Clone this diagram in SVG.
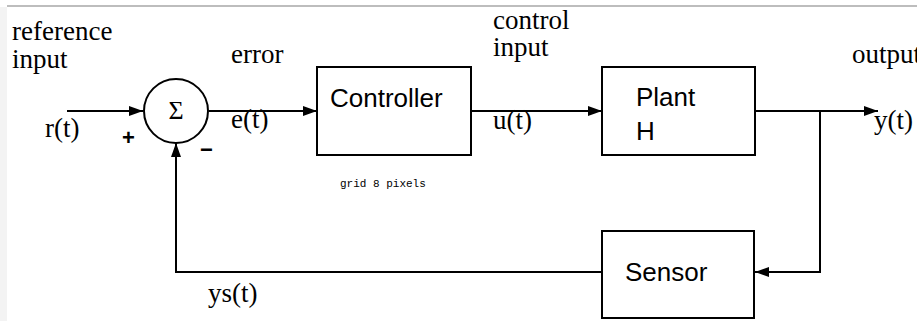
<svg xmlns="http://www.w3.org/2000/svg" width="917" height="321" viewBox="0 0 917 321">
<defs>
<style>
.ln{fill:none;stroke:#000;stroke-width:2}
.box{fill:#fff;stroke:#000;stroke-width:2}
.serif{font-family:"Liberation Serif","Times New Roman",serif;font-size:27px;fill:#000}
.sans{font-family:"Liberation Sans",Arial,sans-serif;font-size:26px;fill:#000}
.mono{font-family:"Liberation Mono","Courier New",monospace;font-size:11px;fill:#000}
</style>
<marker id="ah" viewBox="0 0 14 10" refX="14" refY="5" markerWidth="14" markerHeight="10" markerUnits="userSpaceOnUse" orient="auto">
<path d="M0,0 L14,5 L0,10 z" fill="#000"/>
</marker>
</defs>
<rect x="0" y="0" width="917" height="321" fill="#fff"/>
<rect x="0" y="7" width="7" height="314" fill="#f3f3f3"/>
<rect x="7" y="5" width="910" height="2" fill="#bdbdbd"/>
<g id="labels">
<text class="serif" x="12" y="40">reference</text>
<text class="serif" x="12" y="68">input</text>
<text class="serif" x="231" y="63">error</text>
<text class="serif" x="45" y="137">r(t)</text>
<text class="serif" x="231" y="128">e(t)</text>
<text class="serif" x="493" y="29">control</text>
<text class="serif" x="493" y="56">input</text>
<text class="serif" x="493" y="129">u(t)</text>
<text class="serif" x="852" y="63">output</text>
<text class="serif" x="874" y="129">y(t)</text>
<text class="serif" x="208" y="302">ys(t)</text>
<text style="font-family:'Liberation Sans',Arial,sans-serif;font-size:22px;font-weight:bold" x="122" y="145">+</text>
<text style="font-family:'Liberation Sans',Arial,sans-serif;font-size:22px;font-weight:bold" x="200" y="157">−</text>
<text class="mono" x="340" y="187">grid 8 pixels</text>
</g>
<g id="connectors">
<line class="ln" x1="67" y1="111" x2="143" y2="111" marker-end="url(#ah)"/>
<line class="ln" x1="209" y1="111" x2="317" y2="111" marker-end="url(#ah)"/>
<line class="ln" x1="471" y1="111" x2="602" y2="111" marker-end="url(#ah)"/>
<line class="ln" x1="755" y1="111" x2="878" y2="111" marker-end="url(#ah)"/>
<polyline class="ln" points="820,111 820,272 755,272" marker-end="url(#ah)"/>
<polyline class="ln" points="602,272 176,272 176,143" marker-end="url(#ah)"/>
</g>
<g id="sum">
<circle cx="176" cy="111" r="32" class="box"/>
<text style="font-family:'Liberation Serif','Times New Roman',serif;font-size:26px" x="176" y="119" text-anchor="middle">Σ</text>
</g>
<g id="controller">
<rect class="box" x="317" y="67" width="154" height="88"/>
<text class="sans" x="330" y="107">Controller</text>
</g>
<g id="plant">
<rect class="box" x="602" y="67" width="153" height="88"/>
<text class="sans" x="636" y="106">Plant</text>
<text class="sans" x="636" y="140">H</text>
</g>
<g id="sensor">
<rect class="box" x="602" y="231" width="152" height="87"/>
<text class="sans" x="625" y="281">Sensor</text>
</g>
</svg>
